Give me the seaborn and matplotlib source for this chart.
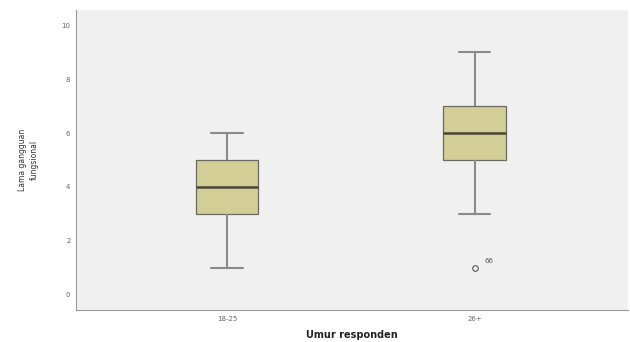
import numpy as np
import pandas as pd
import matplotlib
matplotlib.use("Agg")
import matplotlib.pyplot as plt
import seaborn as sns

categories = ["18-25", "26+"]
group_18_25 = [1, 2, 3, 3, 4, 4, 5, 5, 6]
group_26 = [1, 3, 5, 5, 6, 6, 7, 8, 9]
outlier_label = "66"
y_ticks = [0, 2, 4, 6, 8, 10]

df = pd.DataFrame({
    "Umur responden": [categories[0]] * len(group_18_25) + [categories[1]] * len(group_26),
    "value": group_18_25 + group_26,
})

sns.set_style("white")
plt.rcParams['font.family'] = ['DejaVu Sans']

fig = plt.figure(figsize=(6.3, 3.42), dpi=100)
ax = fig.add_axes([76/630, 1-310/342, (628-76)/630, 300/342])
ax.set_facecolor("#F0F0F0")

sns.boxplot(data=df, x="Umur responden", y="value", order=categories, ax=ax,
            width=0.254, color="#D3CE96", whis=1.5,
            boxprops=dict(facecolor="#D3CE96", edgecolor="#6A6A5E", linewidth=0.9),
            medianprops=dict(color="#4A4634", linewidth=1.8),
            whiskerprops=dict(color="#8A8A8A", linewidth=1.5),
            capprops=dict(color="#8A8A8A", linewidth=1.5),
            flierprops=dict(marker="o", markersize=4, markerfacecolor="none",
                            markeredgecolor="#555555", markeredgewidth=0.8),
            saturation=1)

# outlier label
ax.text(1.04, 1.25, outlier_label, fontsize=5, color="#555555", ha="left", va="center")

ax.set_xlim(-0.61, 1.62)
ax.set_ylim(-0.56, 10.56)
ax.set_yticks(y_ticks)
ax.set_yticklabels([str(t) for t in y_ticks], fontsize=5, color="#666666")
ax.set_xticks([0, 1])
ax.set_xticklabels(categories, fontsize=5, color="#666666")
ax.tick_params(axis="both", direction="out", length=2.5, width=0.6, color="#888888", pad=1.5)

for s in ["top", "right"]:
    ax.spines[s].set_visible(False)
ax.spines["left"].set_color("#999999")
ax.spines["bottom"].set_color("#999999")
ax.spines["left"].set_linewidth(0.8)
ax.spines["bottom"].set_linewidth(0.8)

ax.set_xlabel("Umur responden", fontsize=7, fontweight="bold", color="#222222", labelpad=6)
ax.set_ylabel("Lama gangguan\nfungsional", fontsize=5.5, color="#333333", labelpad=16,
              linespacing=1.5, multialignment="center")

fig.savefig("out.png", dpi=100)
